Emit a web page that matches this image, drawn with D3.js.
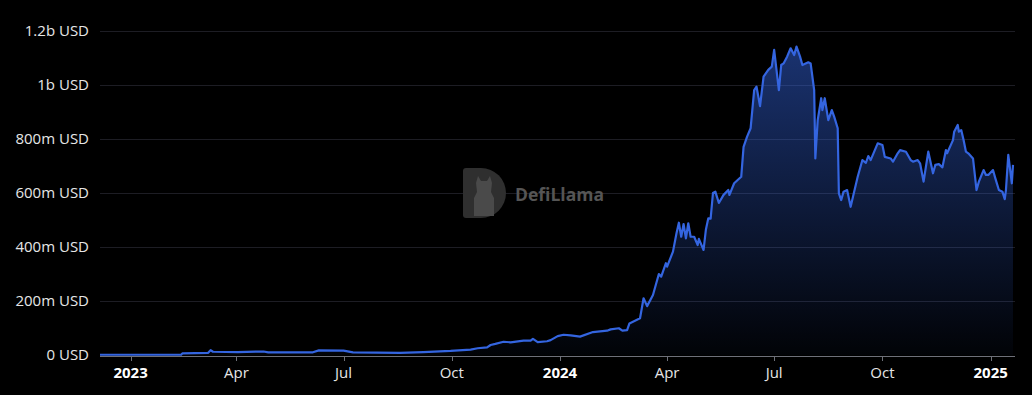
<!DOCTYPE html>
<html>
<head>
<meta charset="utf-8">
<script src="https://cdn.jsdelivr.net/npm/d3@7"></script>
<style>
  html, body { margin: 0; padding: 0; background: #000; }
  svg { display: block; }
</style>
</head>
<body>
<svg id="chart" width="1032" height="395"></svg>
<script>
// ---- data (TVL in millions USD) ----
const dates = [
  "2022-12-06","2023-02-13","2023-02-14","2023-03-08","2023-03-10","2023-03-12","2023-04-02","2023-04-24","2023-04-28",
  "2023-06-05","2023-06-10","2023-07-01","2023-07-09","2023-08-18","2023-09-07","2023-09-30","2023-10-17","2023-10-23",
  "2023-10-31","2023-11-03","2023-11-07","2023-11-14","2023-11-20","2023-12-01","2023-12-07","2023-12-09","2023-12-13",
  "2023-12-21","2023-12-24","2023-12-30","2024-01-04","2024-01-10","2024-01-18","2024-01-29","2024-02-10","2024-02-13",
  "2024-02-20","2024-02-23","2024-02-27","2024-02-29","2024-03-09","2024-03-12","2024-03-15","2024-03-20","2024-03-25",
  "2024-03-27","2024-03-31","2024-04-01","2024-04-06","2024-04-09","2024-04-11","2024-04-13","2024-04-15","2024-04-17",
  "2024-04-19","2024-04-21","2024-04-24","2024-04-27","2024-04-28","2024-05-02","2024-05-04","2024-05-06","2024-05-08",
  "2024-05-10","2024-05-12","2024-05-15","2024-05-19","2024-05-23","2024-05-24","2024-05-28","2024-05-31","2024-06-03",
  "2024-06-05","2024-06-08","2024-06-11","2024-06-14","2024-06-16","2024-06-19","2024-06-22","2024-06-26","2024-06-29",
  "2024-07-01","2024-07-05","2024-07-07","2024-07-09","2024-07-12","2024-07-15","2024-07-18","2024-07-20","2024-07-23",
  "2024-07-25","2024-07-30","2024-08-01","2024-08-04","2024-08-05","2024-08-07","2024-08-10","2024-08-11","2024-08-13",
  "2024-08-16","2024-08-19","2024-08-21","2024-08-24","2024-08-25","2024-08-27","2024-08-29","2024-09-01","2024-09-04",
  "2024-09-06","2024-09-10","2024-09-14","2024-09-17","2024-09-19","2024-09-21","2024-09-27","2024-10-01","2024-10-03",
  "2024-10-08","2024-10-10","2024-10-14","2024-10-16","2024-10-21","2024-10-25","2024-10-27","2024-10-31","2024-11-02",
  "2024-11-05","2024-11-09","2024-11-13","2024-11-15","2024-11-18","2024-11-21","2024-11-24","2024-11-25","2024-11-30",
  "2024-12-01","2024-12-04","2024-12-05","2024-12-07","2024-12-09","2024-12-11","2024-12-13","2024-12-17","2024-12-20",
  "2024-12-22","2024-12-26","2024-12-28","2024-12-30","2025-01-03","2025-01-05","2025-01-08","2025-01-11","2025-01-13",
  "2025-01-14","2025-01-16","2025-01-19","2025-01-20"
];
const tvlMillions = [
  1,1,6,8,18,12,11,13,10,
  10,17,16,10,8,11,15,20,25,
  28,37,41,49,47,53,53,60,48,
  51,55,70,75,73,68,85,90,95,
  99,90,92,117,136,210,181,222,300,
  290,340,327,383,451,490,438,485,432,
  488,438,438,407,430,389,465,506,505,
  600,605,563,593,611,593,636,648,660,
  771,809,840,981,994,922,1031,1056,1068,
  1130,981,1074,1080,1105,1136,1111,1142,1105,
  1074,1084,1080,981,728,870,951,907,951,
  870,907,883,840,599,574,605,611,549,
  586,660,722,712,737,722,784,778,734,
  728,716,747,759,753,722,716,722,710,
  642,753,673,704,707,695,759,747,796,
  827,852,827,833,796,753,747,728,611,
  642,685,667,667,685,654,611,605,577,
  611,741,636,704
];
const yTicks = [0, 200, 400, 600, 800, 1000, 1200];
const xTickDates = ["2023-01-01","2023-04-01","2023-07-01","2023-10-01","2024-01-01","2024-04-01","2024-07-01","2024-10-01","2025-01-01"];
const monthNames = ["Jan","Feb","Mar","Apr","May","Jun","Jul","Aug","Sep","Oct","Nov","Dec"];

// ---- chart ----
(function () {
const parse = d3.utcParse("%Y-%m-%d");
const data = dates.map((d, i) => ({ date: parse(d), value: tvlMillions[i] }));

const svg = d3.select("#chart");
const pLeft = 100, pRight = 1013, pTop = 31, pBottom = 355;
const fontFamily = "'Open Sans', 'Noto Sans', sans-serif";

const x = d3.scaleUtc().domain(d3.extent(data, d => d.date)).range([pLeft, pRight]);
const y = d3.scaleLinear().domain([0, 1200]).range([pBottom, pTop]);

function fmtY(v) {
  if (v === 0) return "0 USD";
  if (v >= 1000) return (v / 1000) + "b USD";
  return v + "m USD";
}

// grid lines
svg.append("g").selectAll("line").data(yTicks.filter(t => t > 0)).join("line")
  .attr("x1", pLeft).attr("x2", 1015)
  .attr("y1", d => Math.round(y(d)) + 0.5).attr("y2", d => Math.round(y(d)) + 0.5)
  .attr("stroke", "#1d1d24").attr("stroke-width", 1);

// y labels
svg.append("g").selectAll("text").data(yTicks).join("text")
  .attr("x", 89).attr("y", d => y(d)).attr("dy", "0.35em")
  .attr("text-anchor", "end")
  .attr("fill", "#e6e6e6")
  .attr("font-family", fontFamily).attr("font-size", 15)
  .text(fmtY);

// watermark
const wm = svg.append("g");
wm.append("path")
  .attr("d", "M466,168 L481,168 A25,25 0 0 1 481,218 L466,218 Q463,218 463,215 L463,171 Q463,168 466,168 Z")
  .attr("fill", "#2f2f2f");
wm.append("path")
  .attr("d", "M476,183 L478,176 L481,181 L487,181 L490,176 L492,183 L491,192 L494,198 L494,216 L474,216 L474,198 L477,192 Z")
  .attr("fill", "#4a4a4a");
wm.append("text")
  .attr("x", 515).attr("y", 200.5)
  .attr("fill", "#555555")
  .attr("font-family", fontFamily).attr("font-weight", 700).attr("font-size", 17.5)
  .text("DefiLlama");

// area gradient
const defs = svg.append("defs");
const grad = defs.append("linearGradient").attr("id", "areaGrad")
  .attr("gradientUnits", "userSpaceOnUse")
  .attr("x1", 0).attr("x2", 0).attr("y1", y(1142)).attr("y2", pBottom);
grad.append("stop").attr("offset", 0).attr("stop-color", "#3465e0").attr("stop-opacity", 0.5);
grad.append("stop").attr("offset", 1).attr("stop-color", "#3465e0").attr("stop-opacity", 0.03);

const area = d3.area().x(d => x(d.date)).y0(pBottom).y1(d => y(d.value));
const line = d3.line().x(d => x(d.date)).y(d => y(d.value));

svg.append("path").datum(data).attr("d", area).attr("fill", "url(#areaGrad)");

// x axis
const xa = svg.append("g");
xa.append("line").attr("x1", pLeft).attr("x2", 1015).attr("y1", 356.5).attr("y2", 356.5)
  .attr("stroke", "#6e7079").attr("stroke-width", 1);
const xt = xTickDates.map(parse);
xa.selectAll("line.tick").data(xt).join("line").attr("class", "tick")
  .attr("x1", d => Math.round(x(d)) + 0.5).attr("x2", d => Math.round(x(d)) + 0.5)
  .attr("y1", 356).attr("y2", 361)
  .attr("stroke", "#6e7079").attr("stroke-width", 1);
xa.selectAll("text").data(xt).join("text")
  .attr("x", d => x(d)).attr("y", 373).attr("dy", "0.35em")
  .attr("text-anchor", "middle")
  .attr("fill", d => d.getUTCMonth() === 0 ? "#ffffff" : "#e6e6e6")
  .attr("font-weight", d => d.getUTCMonth() === 0 ? 700 : 400)
  .attr("font-family", fontFamily).attr("font-size", 15)
  .text(d => d.getUTCMonth() === 0 ? d.getUTCFullYear() : monthNames[d.getUTCMonth()]);

// line
svg.append("path").datum(data).attr("d", line)
  .attr("fill", "none").attr("stroke", "#3465e0").attr("stroke-width", 2.2)
  .attr("stroke-linejoin", "round");
})();
</script>
</body>
</html>
